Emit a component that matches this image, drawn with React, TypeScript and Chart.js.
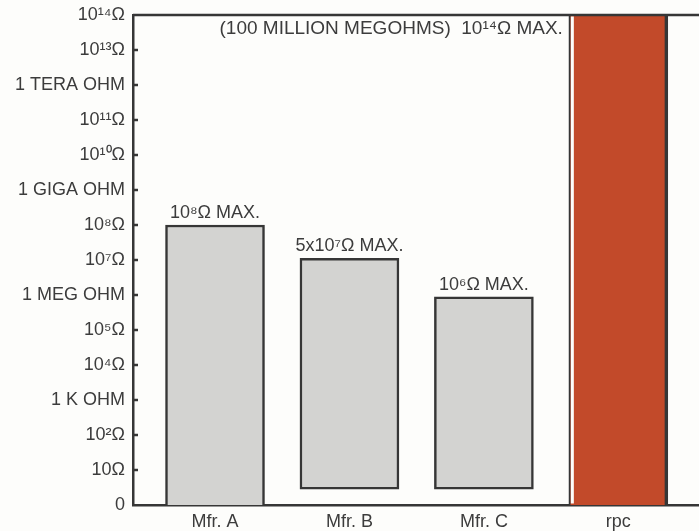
import React, { useEffect, useRef } from "react";
import { Chart, registerables } from "chart.js";

Chart.register(...registerables);

const categories = ["Mfr. A", "Mfr. B", "Mfr. C", "rpc"];
const barBottoms = [0, 0.45, 0.45, 0];
const barTops = [8, 7.05, 5.95, 14];
const barLabels = ["10⁸Ω MAX.", "5x10⁷Ω MAX.", "10⁶Ω MAX.", "(100 MILLION MEGOHMS)  10¹⁴Ω MAX."];
const yTickLabels = [
  "0", "10Ω", "10²Ω", "1 K OHM", "10⁴Ω", "10⁵Ω", "1 MEG OHM", "10⁷Ω",
  "10⁸Ω", "1 GIGA OHM", "10¹⁰Ω", "10¹¹Ω", "1 TERA OHM", "10¹³Ω", "10¹⁴Ω",
];

const INK = "#363636";
const TEXT = "#3c3c3c";
const FONT = '"Liberation Sans", Arial, sans-serif';

const decorPlugin = {
  id: "decor",
  afterDatasetsDraw(chart: any) {
    const { ctx, chartArea, scales } = chart;
    const y = scales.y;
    ctx.save();
    ctx.strokeStyle = INK;
    ctx.lineWidth = 2.5;
    ctx.beginPath();
    ctx.moveTo(chartArea.left, chartArea.top);
    ctx.lineTo(chartArea.right, chartArea.top);
    ctx.stroke();
    for (let i = 1; i < yTickLabels.length - 1; i++) {
      const py = y.getPixelForValue(i);
      ctx.beginPath();
      ctx.moveTo(chartArea.left, py);
      ctx.lineTo(chartArea.left + 5, py);
      ctx.stroke();
    }
    const meta = chart.getDatasetMeta(0);
    ctx.fillStyle = TEXT;
    meta.data.forEach((bar: any, i: number) => {
      const props = bar.getProps(["x", "y", "width"], true);
      if (i === categories.length - 1) {
        ctx.fillStyle = "#fdfdfb";
        ctx.fillRect(props.x - props.width / 2 + 2, chartArea.top + 1.5, 3, chartArea.bottom - chartArea.top - 3);
        ctx.fillStyle = TEXT;
        ctx.font = `19px ${FONT}`;
        ctx.textAlign = "right";
        ctx.textBaseline = "middle";
        ctx.fillText(barLabels[i], props.x - props.width / 2 - 6, chartArea.top + 14);
      } else {
        ctx.font = `18px ${FONT}`;
        ctx.textAlign = "center";
        ctx.textBaseline = "bottom";
        ctx.fillText(barLabels[i], props.x, props.y - 3);
      }
    });
    ctx.restore();
  },
};

export default function App() {
  const ref = useRef<HTMLCanvasElement>(null);
  useEffect(() => {
    if (!ref.current) return;
    const chart = new Chart(ref.current, {
      type: "bar",
      data: {
        datasets: [
          {
            data: categories.map((_, i) => ({ x: i, y: [barBottoms[i], barTops[i]] })) as any,
            backgroundColor: ["#d3d3d1", "#d3d3d1", "#d3d3d1", "#c24a2a"],
            borderColor: INK,
            borderWidth: [
              { left: 2.5, right: 2.5, top: 2.5, bottom: 0 },
              2.5,
              2.5,
              { left: 2, right: 3.5, top: 0, bottom: 0 },
            ] as any,
            borderSkipped: false,
            barThickness: 99,
          },
        ],
      },
      options: {
        responsive: false,
        animation: false,
        devicePixelRatio: 1,
        layout: { padding: { top: 15, right: 0, left: 0, bottom: 0 } },
        plugins: { legend: { display: false }, tooltip: { enabled: false } },
        scales: {
          x: {
            type: "linear",
            offset: false,
            min: -0.61,
            max: 3.6,
            afterBuildTicks: (scale: any) => {
              scale.ticks = categories.map((_, i) => ({ value: i }));
            },
            afterFit: (scale: any) => {
              scale.height = 26;
              scale.paddingLeft = 0;
              scale.paddingRight = 0;
            },
            grid: { display: false, drawTicks: false },
            border: { display: true, color: INK, width: 2.5 },
            ticks: {
              padding: 6,
              color: TEXT,
              font: { family: FONT, size: 18 },
              callback: (v: any) => categories[v] ?? "",
              maxRotation: 0,
              autoSkip: false,
            },
          },
          y: {
            type: "linear",
            min: 0,
            max: 14,
            afterFit: (scale: any) => {
              scale.width = 133;
              scale.paddingTop = 0;
              scale.paddingBottom = 0;
            },
            grid: { display: false, drawTicks: false },
            border: { display: true, color: INK, width: 2.5 },
            ticks: {
              stepSize: 1,
              padding: 8,
              color: TEXT,
              font: { family: FONT, size: 18 },
              autoSkip: false,
              callback: (v: any) => yTickLabels[v] ?? "",
            },
          },
        },
      },
      plugins: [decorPlugin],
    });
    return () => chart.destroy();
  }, []);
  return (
    <div style={{ position: "fixed", left: 0, top: 0, width: 699, height: 531, background: "#fdfdfb" }}>
      <canvas ref={ref} width={699} height={531} style={{ width: 699, height: 531, display: "block" }} />
    </div>
  );
}
